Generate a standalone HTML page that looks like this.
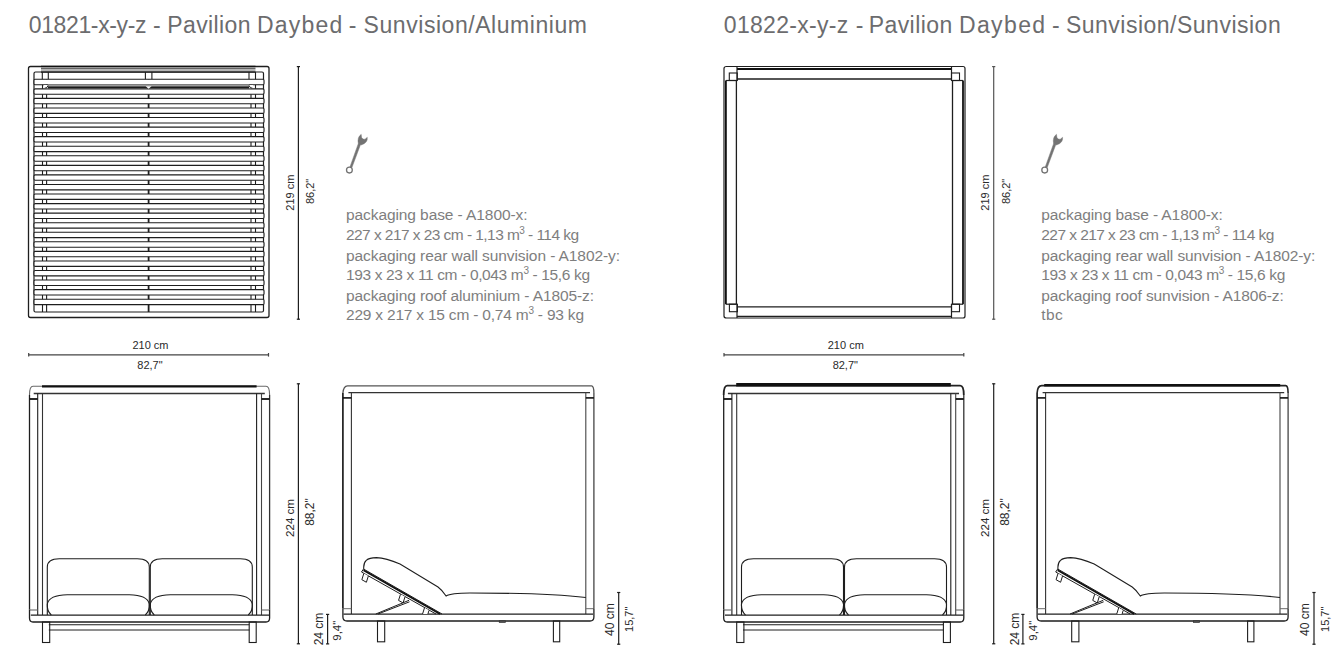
<!DOCTYPE html>
<html><head><meta charset="utf-8"><style>
html,body{margin:0;padding:0;background:#fff;width:1344px;height:666px;overflow:hidden}
svg{display:block;font-family:"Liberation Sans",sans-serif}
</style></head><body>
<svg width="1344" height="666" viewBox="0 0 1344 666">
<rect width="1344" height="666" fill="#fff"/>
<text x="28.7" y="33" font-size="23" fill="#6c6c6e" textLength="117.8" lengthAdjust="spacing">01821-x-y-z</text><text x="152.9" y="33" font-size="23" fill="#6c6c6e" >-</text><text x="167.2" y="33" font-size="23" fill="#6c6c6e" textLength="83.4" lengthAdjust="spacing">Pavilion</text><text x="256.9" y="33" font-size="23" fill="#6c6c6e" textLength="85.4" lengthAdjust="spacing">Daybed</text><text x="348.7" y="33" font-size="23" fill="#6c6c6e" >-</text><text x="363.6" y="33" font-size="23" fill="#6c6c6e" textLength="223.4" lengthAdjust="spacing">Sunvision/Aluminium</text><text x="723.8" y="33" font-size="23" fill="#6c6c6e" textLength="124.4" lengthAdjust="spacing">01822-x-y-z</text><text x="855.7" y="33" font-size="23" fill="#6c6c6e" >-</text><text x="868.7" y="33" font-size="23" fill="#6c6c6e" textLength="83.6" lengthAdjust="spacing">Pavilion</text><text x="958.9" y="33" font-size="23" fill="#6c6c6e" textLength="86.2" lengthAdjust="spacing">Daybed</text><text x="1052.0" y="33" font-size="23" fill="#6c6c6e" >-</text><text x="1065.9" y="33" font-size="23" fill="#6c6c6e" textLength="214.8" lengthAdjust="spacing">Sunvision/Sunvision</text><path d="M30.5 66.5 H267 Q269 66.5 269 68.5 V315.5 Q269 317.5 267 317.5 H30.5 Q28.5 317.5 28.5 315.5 V68.5 Q28.5 66.5 30.5 66.5 Z" stroke="#1e1e1e" stroke-width="1.3" fill="none" /><rect x="41" y="69.2" width="214.5" height="2.6" rx="0" stroke="#6a6a6a" stroke-width="0" fill="#b4b4b4"/><line x1="41" y1="66.5" x2="255.5" y2="66.5" stroke="#111" stroke-width="1.3" /><line x1="41" y1="68.6" x2="255.5" y2="68.6" stroke="#444" stroke-width="0.9" /><line x1="41" y1="72.2" x2="255.5" y2="72.2" stroke="#1e1e1e" stroke-width="1.2" /><path d="M35.5 72 H262 Q263.5 72 263.5 73.5 V310.5 Q263.5 312 262 312 H35.5 Q34 312 34 310.5 V73.5 Q34 72 35.5 72 Z" stroke="#1e1e1e" stroke-width="1.2" fill="none" /><line x1="42.5" y1="79" x2="42.5" y2="312" stroke="#1e1e1e" stroke-width="1.1" /><line x1="46.6" y1="79" x2="46.6" y2="312" stroke="#1e1e1e" stroke-width="1.1" /><line x1="148.6" y1="79" x2="148.6" y2="312" stroke="#1e1e1e" stroke-width="1.8" /><line x1="251" y1="79" x2="251" y2="312" stroke="#1e1e1e" stroke-width="1.1" /><line x1="255.5" y1="79" x2="255.5" y2="312" stroke="#1e1e1e" stroke-width="1.1" /><line x1="42.3" y1="72" x2="42.3" y2="80" stroke="#1e1e1e" stroke-width="1.1" /><line x1="48.3" y1="72" x2="48.3" y2="80" stroke="#1e1e1e" stroke-width="1.1" /><line x1="145.4" y1="72" x2="145.4" y2="80" stroke="#1e1e1e" stroke-width="1.1" /><line x1="151.9" y1="72" x2="151.9" y2="80" stroke="#1e1e1e" stroke-width="1.1" /><line x1="249" y1="72" x2="249" y2="80" stroke="#1e1e1e" stroke-width="1.1" /><line x1="255.5" y1="72" x2="255.5" y2="80" stroke="#1e1e1e" stroke-width="1.1" /><rect x="34" y="79.3" width="230" height="5.4" rx="1.2" stroke="#1e1e1e" stroke-width="1.1" fill="#fff"/><rect x="34" y="88.86" width="230" height="5.4" rx="1.2" stroke="#1e1e1e" stroke-width="1.1" fill="#fff"/><rect x="34" y="98.42" width="230" height="5.4" rx="1.2" stroke="#1e1e1e" stroke-width="1.1" fill="#fff"/><rect x="34" y="107.98" width="230" height="5.4" rx="1.2" stroke="#1e1e1e" stroke-width="1.1" fill="#fff"/><rect x="34" y="117.54" width="230" height="5.4" rx="1.2" stroke="#1e1e1e" stroke-width="1.1" fill="#fff"/><rect x="34" y="127.1" width="230" height="5.4" rx="1.2" stroke="#1e1e1e" stroke-width="1.1" fill="#fff"/><rect x="34" y="136.66" width="230" height="5.4" rx="1.2" stroke="#1e1e1e" stroke-width="1.1" fill="#fff"/><rect x="34" y="146.22" width="230" height="5.4" rx="1.2" stroke="#1e1e1e" stroke-width="1.1" fill="#fff"/><rect x="34" y="155.78" width="230" height="5.4" rx="1.2" stroke="#1e1e1e" stroke-width="1.1" fill="#fff"/><rect x="34" y="165.34" width="230" height="5.4" rx="1.2" stroke="#1e1e1e" stroke-width="1.1" fill="#fff"/><rect x="34" y="174.9" width="230" height="5.4" rx="1.2" stroke="#1e1e1e" stroke-width="1.1" fill="#fff"/><rect x="34" y="184.46" width="230" height="5.4" rx="1.2" stroke="#1e1e1e" stroke-width="1.1" fill="#fff"/><rect x="34" y="194.02" width="230" height="5.4" rx="1.2" stroke="#1e1e1e" stroke-width="1.1" fill="#fff"/><rect x="34" y="203.58" width="230" height="5.4" rx="1.2" stroke="#1e1e1e" stroke-width="1.1" fill="#fff"/><rect x="34" y="213.14" width="230" height="5.4" rx="1.2" stroke="#1e1e1e" stroke-width="1.1" fill="#fff"/><rect x="34" y="222.7" width="230" height="5.4" rx="1.2" stroke="#1e1e1e" stroke-width="1.1" fill="#fff"/><rect x="34" y="232.26" width="230" height="5.4" rx="1.2" stroke="#1e1e1e" stroke-width="1.1" fill="#fff"/><rect x="34" y="241.82" width="230" height="5.4" rx="1.2" stroke="#1e1e1e" stroke-width="1.1" fill="#fff"/><rect x="34" y="251.38" width="230" height="5.4" rx="1.2" stroke="#1e1e1e" stroke-width="1.1" fill="#fff"/><rect x="34" y="260.94" width="230" height="5.4" rx="1.2" stroke="#1e1e1e" stroke-width="1.1" fill="#fff"/><rect x="34" y="270.5" width="230" height="5.4" rx="1.2" stroke="#1e1e1e" stroke-width="1.1" fill="#fff"/><rect x="34" y="280.06" width="230" height="5.4" rx="1.2" stroke="#1e1e1e" stroke-width="1.1" fill="#fff"/><rect x="34" y="289.62" width="230" height="5.4" rx="1.2" stroke="#1e1e1e" stroke-width="1.1" fill="#fff"/><rect x="34" y="299.18" width="230" height="5.4" rx="1.2" stroke="#1e1e1e" stroke-width="1.1" fill="#fff"/><rect x="48" y="84.4" width="201" height="4" rx="0" stroke="#1e1e1e" stroke-width="0" fill="#9c9c9c"/><rect x="48" y="86.5" width="201" height="1.9" rx="0" stroke="#1e1e1e" stroke-width="0" fill="#1a1a1a"/><path d="M145.6 86.2 H151.6 L148.6 88.8 Z" fill="#fff"/><rect x="44" y="85" width="3.6" height="3.3" fill="#fff"/><rect x="249.5" y="85" width="3.6" height="3.3" fill="#fff"/><path d="M44.5 88.3 Q47.5 88.3 48 85.5" stroke="#1e1e1e" stroke-width="1" fill="none" /><path d="M252.6 88.3 Q249.6 88.3 249.1 85.5" stroke="#1e1e1e" stroke-width="1" fill="none" /><path d="M726.5 66.5 H963 Q965 66.5 965 68.5 V316 Q965 318 963 318 H726.5 Q724 318 724 316 V68.5 Q724 66.5 726.5 66.5 Z" stroke="#1e1e1e" stroke-width="1.2" fill="none" /><line x1="737" y1="69" x2="951.5" y2="69" stroke="#111" stroke-width="2.2" /><line x1="737" y1="79" x2="951.5" y2="79" stroke="#1e1e1e" stroke-width="1.3" /><line x1="737" y1="306.8" x2="951.5" y2="306.8" stroke="#1e1e1e" stroke-width="1.3" /><line x1="737" y1="316.4" x2="951.5" y2="316.4" stroke="#1e1e1e" stroke-width="1.2" /><line x1="725.9" y1="80.5" x2="725.9" y2="304.2" stroke="#111" stroke-width="1.8" /><line x1="736.4" y1="80.5" x2="736.4" y2="304.2" stroke="#1e1e1e" stroke-width="1.3" /><line x1="725.9" y1="80.5" x2="736.4" y2="80.5" stroke="#1e1e1e" stroke-width="1.2" /><line x1="725.9" y1="304.2" x2="736.4" y2="304.2" stroke="#1e1e1e" stroke-width="1.2" /><line x1="952.5" y1="80.5" x2="952.5" y2="304.2" stroke="#1e1e1e" stroke-width="1.3" /><line x1="963" y1="80.5" x2="963" y2="304.2" stroke="#111" stroke-width="1.8" /><line x1="952.5" y1="80.5" x2="963" y2="80.5" stroke="#1e1e1e" stroke-width="1.2" /><line x1="952.5" y1="304.2" x2="963" y2="304.2" stroke="#1e1e1e" stroke-width="1.2" /><line x1="737" y1="66.5" x2="737" y2="80.5" stroke="#1e1e1e" stroke-width="1.2" /><line x1="951.5" y1="66.5" x2="951.5" y2="80.5" stroke="#1e1e1e" stroke-width="1.2" /><line x1="737" y1="304.2" x2="737" y2="318" stroke="#1e1e1e" stroke-width="1.2" /><line x1="951.5" y1="304.2" x2="951.5" y2="318" stroke="#1e1e1e" stroke-width="1.2" /><rect x="729.3" y="73" width="8" height="7.5" rx="0" stroke="#1e1e1e" stroke-width="1.1" fill="none"/><rect x="951.5" y="73" width="8" height="7.5" rx="0" stroke="#1e1e1e" stroke-width="1.1" fill="none"/><rect x="729.4" y="304.2" width="8" height="7.5" rx="0" stroke="#1e1e1e" stroke-width="1.1" fill="none"/><rect x="951.5" y="304.2" width="8" height="7.5" rx="0" stroke="#1e1e1e" stroke-width="1.1" fill="none"/><path d="M29.5 395 Q29.5 386.3 33 386.3 H266 Q269.6 386.3 269.6 395" stroke="#6a6a6a" stroke-width="1.1" fill="none" /><line x1="42" y1="386.3" x2="256.6" y2="386.3" stroke="#111" stroke-width="2.3" /><line x1="33.7" y1="393.5" x2="264.8" y2="393.5" stroke="#333" stroke-width="1.3" /><line x1="29.5" y1="395" x2="29.5" y2="609.5" stroke="#1e1e1e" stroke-width="1.3" /><line x1="37.7" y1="393.5" x2="37.7" y2="615" stroke="#1e1e1e" stroke-width="1.1" /><line x1="42.5" y1="393.5" x2="42.5" y2="615" stroke="#333" stroke-width="1.1" /><line x1="256.6" y1="393.5" x2="256.6" y2="615" stroke="#1e1e1e" stroke-width="1.1" /><line x1="261.5" y1="393.5" x2="261.5" y2="615" stroke="#444" stroke-width="1.1" /><line x1="269.6" y1="395" x2="269.6" y2="609.5" stroke="#333" stroke-width="1.3" /><line x1="29.5" y1="399" x2="37.7" y2="399" stroke="#111" stroke-width="1.8" /><line x1="261.5" y1="399" x2="269.6" y2="399" stroke="#111" stroke-width="1.8" /><line x1="29.5" y1="610" x2="37.7" y2="610" stroke="#6a6a6a" stroke-width="1.1" /><line x1="261.5" y1="610" x2="269.6" y2="610" stroke="#6a6a6a" stroke-width="1.1" /><path d="M29.5 609.5 V618 Q29.5 622 33 622 H266 Q269.6 622 269.6 618 V609.5" stroke="#1e1e1e" stroke-width="1.3" fill="none" /><line x1="30.8" y1="615.2" x2="269" y2="615.2" stroke="#1e1e1e" stroke-width="1.3" /><line x1="48.8" y1="624.8" x2="249.4" y2="624.8" stroke="#1e1e1e" stroke-width="1.1" /><line x1="48.8" y1="630" x2="249.4" y2="630" stroke="#1e1e1e" stroke-width="1.1" /><rect x="42.5" y="622" width="7.2" height="20.5" rx="0" stroke="#1e1e1e" stroke-width="1.1" fill="none"/><rect x="249.2" y="622" width="7" height="20.5" rx="0" stroke="#1e1e1e" stroke-width="1.1" fill="none"/><path d="M47.3 615 V567 Q47.3 559 59.3 558.8 H137.3 Q149.3 559 149.3 567 V615" stroke="#1e1e1e" stroke-width="1.1" fill="none" /><path d="M51.3 615 Q46.8 611 47.3 604 Q49.3 595 67.3 594.7 H129.3 Q147.3 595 149.3 604 Q149.8 611 145.3 615" stroke="#1e1e1e" stroke-width="1.1" fill="none" /><path d="M150.3 615 V567 Q150.3 559 162.3 558.8 H240.3 Q252.3 559 252.3 567 V615" stroke="#1e1e1e" stroke-width="1.1" fill="none" /><path d="M154.3 615 Q149.8 611 150.3 604 Q152.3 595 170.3 594.7 H232.3 Q250.3 595 252.3 604 Q252.8 611 248.3 615" stroke="#1e1e1e" stroke-width="1.1" fill="none" /><path d="M723.7 395 Q723.7 385.6 727.2 385.6 H960.2 Q963.8 385.6 963.8 395" stroke="#222" stroke-width="1.8" fill="none" /><line x1="736.2" y1="384.8" x2="950.8" y2="384.8" stroke="#111" stroke-width="3.5" /><line x1="727.9" y1="393.5" x2="959" y2="393.5" stroke="#333" stroke-width="1.3" /><line x1="723.7" y1="395" x2="723.7" y2="609.5" stroke="#1e1e1e" stroke-width="1.3" /><line x1="731.9" y1="393.5" x2="731.9" y2="615" stroke="#1e1e1e" stroke-width="1.1" /><line x1="736.7" y1="393.5" x2="736.7" y2="615" stroke="#333" stroke-width="1.1" /><line x1="950.8" y1="393.5" x2="950.8" y2="615" stroke="#1e1e1e" stroke-width="1.1" /><line x1="955.7" y1="393.5" x2="955.7" y2="615" stroke="#444" stroke-width="1.1" /><line x1="963.8" y1="395" x2="963.8" y2="609.5" stroke="#333" stroke-width="1.3" /><line x1="723.7" y1="399" x2="731.9" y2="399" stroke="#111" stroke-width="1.8" /><line x1="955.7" y1="399" x2="963.8" y2="399" stroke="#111" stroke-width="1.8" /><line x1="723.7" y1="610" x2="731.9" y2="610" stroke="#6a6a6a" stroke-width="1.1" /><line x1="955.7" y1="610" x2="963.8" y2="610" stroke="#6a6a6a" stroke-width="1.1" /><path d="M723.7 609.5 V618 Q723.7 622 727.2 622 H960.2 Q963.8 622 963.8 618 V609.5" stroke="#1e1e1e" stroke-width="1.3" fill="none" /><line x1="725" y1="615.2" x2="963.2" y2="615.2" stroke="#1e1e1e" stroke-width="1.3" /><line x1="743" y1="624.8" x2="943.6" y2="624.8" stroke="#1e1e1e" stroke-width="1.1" /><line x1="743" y1="630" x2="943.6" y2="630" stroke="#1e1e1e" stroke-width="1.1" /><rect x="736.7" y="622" width="7.2" height="20.5" rx="0" stroke="#1e1e1e" stroke-width="1.1" fill="none"/><rect x="943.4" y="622" width="7" height="20.5" rx="0" stroke="#1e1e1e" stroke-width="1.1" fill="none"/><path d="M741.5 615 V567 Q741.5 559 753.5 558.8 H831.5 Q843.5 559 843.5 567 V615" stroke="#1e1e1e" stroke-width="1.1" fill="none" /><path d="M745.5 615 Q741 611 741.5 604 Q743.5 595 761.5 594.7 H823.5 Q841.5 595 843.5 604 Q844 611 839.5 615" stroke="#1e1e1e" stroke-width="1.1" fill="none" /><path d="M844.5 615 V567 Q844.5 559 856.5 558.8 H934.5 Q946.5 559 946.5 567 V615" stroke="#1e1e1e" stroke-width="1.1" fill="none" /><path d="M848.5 615 Q844 611 844.5 604 Q846.5 595 864.5 594.7 H926.5 Q944.5 595 946.5 604 Q947 611 942.5 615" stroke="#1e1e1e" stroke-width="1.1" fill="none" /><path d="M342.9 393 Q343.5 386 347.5 385.9 H591.5 Q593.9 386 593.9 393" stroke="#555" stroke-width="1.3" fill="none" /><line x1="348.4" y1="392.6" x2="590" y2="392.6" stroke="#333" stroke-width="1.3" /><line x1="342.9" y1="393" x2="342.9" y2="608.5" stroke="#111" stroke-width="1.6" /><line x1="351.4" y1="392.6" x2="351.4" y2="614" stroke="#333" stroke-width="1.1" /><line x1="585.8" y1="392.6" x2="585.8" y2="614" stroke="#444" stroke-width="1.1" /><line x1="593.9" y1="393" x2="593.9" y2="608.5" stroke="#444" stroke-width="1.3" /><line x1="342.9" y1="397.9" x2="351.4" y2="397.9" stroke="#111" stroke-width="1.6" /><line x1="585.8" y1="397.9" x2="593.9" y2="397.9" stroke="#111" stroke-width="1.6" /><line x1="342.9" y1="608.7" x2="351.4" y2="608.7" stroke="#6a6a6a" stroke-width="1" /><line x1="585.8" y1="608.7" x2="593.9" y2="608.7" stroke="#6a6a6a" stroke-width="1" /><path d="M342.9 608.5 V617 Q343 621 347 621 H590 Q593.9 621 593.9 617 V608.5" stroke="#1e1e1e" stroke-width="1.3" fill="none" /><line x1="343.5" y1="614.2" x2="593" y2="614.2" stroke="#1e1e1e" stroke-width="1.3" /><rect x="377.5" y="621" width="7.2" height="20.8" rx="0" stroke="#1e1e1e" stroke-width="1.1" fill="none"/><rect x="553.4" y="621" width="6.3" height="20.8" rx="0" stroke="#1e1e1e" stroke-width="1.1" fill="none"/><rect x="499.3" y="620.8" width="6" height="1.6" rx="0" stroke="#333" stroke-width="0.8" fill="none"/><path d="M361.5 572 L363.5 569 L442 614 M361.5 572 L436 614" stroke="#1e1e1e" stroke-width="1" fill="none" /><line x1="363.5" y1="570.3" x2="440" y2="614" stroke="#111" stroke-width="1.8" /><path d="M363.8 569 C363 561 367 557.6 376.4 557.6 C385 557.8 392 560.5 400 564 L438 587 C442 590 443.5 592 446.1 596 C450 593.5 458 593 470 593 C520 593 560 594.5 585.8 597.5" stroke="#1e1e1e" stroke-width="1.1" fill="none" /><clipPath id="cb363"><rect x="0" y="0" width="1344" height="614"/></clipPath><path d="M363.8 573.5 L361.85 579.7 L366.38 582.25 L368.33 576.05" stroke="#1e1e1e" stroke-width="1" fill="#fff" clip-path="url(#cb363)"/><clipPath id="cb400"><rect x="0" y="0" width="1344" height="614"/></clipPath><path d="M400.5 594.2 L398.55 600.4 L403.08 602.95 L405.03 596.75" stroke="#1e1e1e" stroke-width="1" fill="#fff" clip-path="url(#cb400)"/><clipPath id="cb424"><rect x="0" y="0" width="1344" height="614"/></clipPath><path d="M424.5 607.8 L422.1 615.43 L426.63 617.99 L429.03 610.35" stroke="#1e1e1e" stroke-width="1" fill="#fff" clip-path="url(#cb424)"/><path d="M375.8 614 L409 600.3 M378 614 L409.5 601.8" stroke="#1e1e1e" stroke-width="1" fill="none" /><path d="M1037.1 393 Q1037.5 385.6 1041.7 385.6 H1285.7 Q1288.1 385.6 1288.1 393" stroke="#222" stroke-width="1.6" fill="none" /><line x1="1044.2" y1="385.2" x2="1280.2" y2="385.2" stroke="#111" stroke-width="2.4" /><line x1="1042.6" y1="392.6" x2="1284.2" y2="392.6" stroke="#333" stroke-width="1.3" /><line x1="1037.1" y1="393" x2="1037.1" y2="608.5" stroke="#111" stroke-width="1.6" /><line x1="1045.6" y1="392.6" x2="1045.6" y2="614" stroke="#333" stroke-width="1.1" /><line x1="1280" y1="392.6" x2="1280" y2="614" stroke="#444" stroke-width="1.1" /><line x1="1288.1" y1="393" x2="1288.1" y2="608.5" stroke="#444" stroke-width="1.3" /><line x1="1037.1" y1="397.9" x2="1045.6" y2="397.9" stroke="#111" stroke-width="1.6" /><line x1="1280" y1="397.9" x2="1288.1" y2="397.9" stroke="#111" stroke-width="1.6" /><line x1="1037.1" y1="608.7" x2="1045.6" y2="608.7" stroke="#6a6a6a" stroke-width="1" /><line x1="1280" y1="608.7" x2="1288.1" y2="608.7" stroke="#6a6a6a" stroke-width="1" /><path d="M1037.1 608.5 V617 Q1037.2 621 1041.2 621 H1284.2 Q1288.1 621 1288.1 617 V608.5" stroke="#1e1e1e" stroke-width="1.3" fill="none" /><line x1="1037.7" y1="614.2" x2="1287.2" y2="614.2" stroke="#1e1e1e" stroke-width="1.3" /><rect x="1071.7" y="621" width="7.2" height="20.8" rx="0" stroke="#1e1e1e" stroke-width="1.1" fill="none"/><rect x="1247.6" y="621" width="6.3" height="20.8" rx="0" stroke="#1e1e1e" stroke-width="1.1" fill="none"/><rect x="1193.5" y="620.8" width="6" height="1.6" rx="0" stroke="#333" stroke-width="0.8" fill="none"/><path d="M1055.7 572 L1057.7 569 L1136.2 614 M1055.7 572 L1130.2 614" stroke="#1e1e1e" stroke-width="1" fill="none" /><line x1="1057.7" y1="570.3" x2="1134.2" y2="614" stroke="#111" stroke-width="1.8" /><path d="M1058 569 C1057.2 561 1061.2 557.6 1070.6 557.6 C1079.2 557.8 1086.2 560.5 1094.2 564 L1132.2 587 C1136.2 590 1137.7 592 1140.3 596 C1144.2 593.5 1152.2 593 1164.2 593 C1214.2 593 1254.2 594.5 1280 597.5" stroke="#1e1e1e" stroke-width="1.1" fill="none" /><clipPath id="cb1058"><rect x="0" y="0" width="1344" height="614"/></clipPath><path d="M1058 573.5 L1056.05 579.7 L1060.58 582.25 L1062.53 576.05" stroke="#1e1e1e" stroke-width="1" fill="#fff" clip-path="url(#cb1058)"/><clipPath id="cb1094"><rect x="0" y="0" width="1344" height="614"/></clipPath><path d="M1094.7 594.2 L1092.75 600.4 L1097.28 602.95 L1099.23 596.75" stroke="#1e1e1e" stroke-width="1" fill="#fff" clip-path="url(#cb1094)"/><clipPath id="cb1118"><rect x="0" y="0" width="1344" height="614"/></clipPath><path d="M1118.7 607.8 L1116.3 615.43 L1120.83 617.99 L1123.23 610.35" stroke="#1e1e1e" stroke-width="1" fill="#fff" clip-path="url(#cb1118)"/><path d="M1070 614 L1103.2 600.3 M1072.2 614 L1103.7 601.8" stroke="#1e1e1e" stroke-width="1" fill="none" /><line x1="298.4" y1="66.3" x2="298.4" y2="319.5" stroke="#1e1e1e" stroke-width="1.2" /><line x1="296.8" y1="66.6" x2="300" y2="66.6" stroke="#1e1e1e" stroke-width="1.2" /><line x1="296.8" y1="319.2" x2="300" y2="319.2" stroke="#1e1e1e" stroke-width="1.2" /><line x1="28.7" y1="354.8" x2="268.5" y2="354.8" stroke="#444" stroke-width="1.3" /><line x1="28.7" y1="353" x2="28.7" y2="356.6" stroke="#444" stroke-width="1.2" /><line x1="268.5" y1="353" x2="268.5" y2="356.6" stroke="#444" stroke-width="1.2" /><line x1="298.4" y1="383.5" x2="298.4" y2="644.1" stroke="#1e1e1e" stroke-width="1.2" /><line x1="296.8" y1="383.8" x2="300" y2="383.8" stroke="#1e1e1e" stroke-width="1.2" /><line x1="296.8" y1="643.8" x2="300" y2="643.8" stroke="#1e1e1e" stroke-width="1.2" /><line x1="327.6" y1="614.2" x2="327.6" y2="644.1" stroke="#1e1e1e" stroke-width="1.2" /><line x1="326" y1="614.4" x2="329.2" y2="614.4" stroke="#1e1e1e" stroke-width="1.2" /><line x1="326" y1="643.9" x2="329.2" y2="643.9" stroke="#1e1e1e" stroke-width="1.2" /><line x1="618.7" y1="592.3" x2="618.7" y2="644.4" stroke="#1e1e1e" stroke-width="1.2" /><line x1="617.1" y1="592.5" x2="620.3" y2="592.5" stroke="#1e1e1e" stroke-width="1.2" /><line x1="617.1" y1="644.2" x2="620.3" y2="644.2" stroke="#1e1e1e" stroke-width="1.2" /><line x1="993.7" y1="66.3" x2="993.7" y2="319.5" stroke="#555" stroke-width="1.2" /><line x1="992.1" y1="66.6" x2="995.3" y2="66.6" stroke="#555" stroke-width="1.2" /><line x1="992.1" y1="319.2" x2="995.3" y2="319.2" stroke="#555" stroke-width="1.2" /><line x1="724" y1="354.8" x2="963.8" y2="354.8" stroke="#444" stroke-width="1.3" /><line x1="724" y1="353" x2="724" y2="356.6" stroke="#444" stroke-width="1.2" /><line x1="963.8" y1="353" x2="963.8" y2="356.6" stroke="#444" stroke-width="1.2" /><line x1="993.7" y1="383.5" x2="993.7" y2="644.1" stroke="#1e1e1e" stroke-width="1.2" /><line x1="992.1" y1="383.8" x2="995.3" y2="383.8" stroke="#1e1e1e" stroke-width="1.2" /><line x1="992.1" y1="643.8" x2="995.3" y2="643.8" stroke="#1e1e1e" stroke-width="1.2" /><line x1="1022.9" y1="614.2" x2="1022.9" y2="644.1" stroke="#1e1e1e" stroke-width="1.2" /><line x1="1021.3" y1="614.4" x2="1024.5" y2="614.4" stroke="#1e1e1e" stroke-width="1.2" /><line x1="1021.3" y1="643.9" x2="1024.5" y2="643.9" stroke="#1e1e1e" stroke-width="1.2" /><line x1="1314" y1="592.3" x2="1314" y2="644.4" stroke="#1e1e1e" stroke-width="1.2" /><line x1="1312.4" y1="592.5" x2="1315.6" y2="592.5" stroke="#1e1e1e" stroke-width="1.2" /><line x1="1312.4" y1="644.2" x2="1315.6" y2="644.2" stroke="#1e1e1e" stroke-width="1.2" /><text transform="translate(293.8,192.6) rotate(-90)" text-anchor="middle" font-size="11" fill="#2a2a2a">219 cm</text><text transform="translate(314.4,191.4) rotate(-90)" text-anchor="middle" font-size="11" fill="#2a2a2a">86,2&quot;</text><text x="150.5" y="349" text-anchor="middle" font-size="11" fill="#2a2a2a">210 cm</text><text x="150" y="368.7" text-anchor="middle" font-size="11" fill="#2a2a2a">82,7&quot;</text><text transform="translate(294,518) rotate(-90)" text-anchor="middle" font-size="11.6" fill="#2a2a2a">224 cm</text><text transform="translate(313.9,512) rotate(-90)" text-anchor="middle" font-size="12" fill="#2a2a2a">88,2&quot;</text><text transform="translate(323.2,629) rotate(-90)" text-anchor="middle" font-size="12" fill="#2a2a2a">24 cm</text><text transform="translate(341.4,630.7) rotate(-90)" text-anchor="middle" font-size="11.4" fill="#2a2a2a">9,4&quot;</text><text transform="translate(614,619.6) rotate(-90)" text-anchor="middle" font-size="12" fill="#2a2a2a">40 cm</text><text transform="translate(633.3,619.3) rotate(-90)" text-anchor="middle" font-size="11" fill="#2a2a2a">15,7&quot;</text><text transform="translate(989.1,192.6) rotate(-90)" text-anchor="middle" font-size="11" fill="#2a2a2a">219 cm</text><text transform="translate(1009.7,191.4) rotate(-90)" text-anchor="middle" font-size="11" fill="#2a2a2a">86,2&quot;</text><text x="845.8" y="349" text-anchor="middle" font-size="11" fill="#2a2a2a">210 cm</text><text x="845.3" y="368.7" text-anchor="middle" font-size="11" fill="#2a2a2a">82,7&quot;</text><text transform="translate(989.3,518) rotate(-90)" text-anchor="middle" font-size="11.6" fill="#2a2a2a">224 cm</text><text transform="translate(1009.2,512) rotate(-90)" text-anchor="middle" font-size="12" fill="#2a2a2a">88,2&quot;</text><text transform="translate(1018.5,629) rotate(-90)" text-anchor="middle" font-size="12" fill="#2a2a2a">24 cm</text><text transform="translate(1036.7,630.7) rotate(-90)" text-anchor="middle" font-size="11.4" fill="#2a2a2a">9,4&quot;</text><text transform="translate(1309.3,619.6) rotate(-90)" text-anchor="middle" font-size="12" fill="#2a2a2a">40 cm</text><text transform="translate(1328.6,619.3) rotate(-90)" text-anchor="middle" font-size="11" fill="#2a2a2a">15,7&quot;</text><path d="M349.9 167.2 L351.8 167.8 L360.6 144.3 L358.4 143.4 Z" fill="#737373" stroke="#737373" stroke-width="0.5"/><circle cx="349.4" cy="170.1" r="2.9" stroke="#737373" stroke-width="1.3" fill="#fff"/><path d="M358.3 143.6 Q357 137.2 361.2 134.3 L361.6 137.6 Q363 139.8 365 139.2 L367.3 137.3 Q368 142.8 361.2 145.0 Z" fill="#737373" stroke="#737373" stroke-width="0.4"/><path d="M1045.2 167.2 L1047.1 167.8 L1055.9 144.3 L1053.7 143.4 Z" fill="#737373" stroke="#737373" stroke-width="0.5"/><circle cx="1044.7" cy="170.1" r="2.9" stroke="#737373" stroke-width="1.3" fill="#fff"/><path d="M1053.6 143.6 Q1052.3 137.2 1056.5 134.3 L1056.9 137.6 Q1058.3 139.8 1060.3 139.2 L1062.6 137.3 Q1063.3 142.8 1056.5 145.0 Z" fill="#737373" stroke="#737373" stroke-width="0.4"/><text x="346" y="220" font-size="15.5" fill="#7e7e7e" textLength="181.5" lengthAdjust="spacing">packaging base - A1800-x:</text><text x="346" y="240" font-size="15.5" fill="#7e7e7e" textLength="233" lengthAdjust="spacing">227 x 217 x 23 cm - 1,13 m<tspan font-size="10" dy="-6.5">3</tspan><tspan dy="6.5"> - 114 kg</tspan></text><text x="346" y="260.5" font-size="15.5" fill="#7e7e7e" textLength="274" lengthAdjust="spacing">packaging rear wall sunvision - A1802-y:</text><text x="346" y="280.3" font-size="15.5" fill="#7e7e7e" textLength="244" lengthAdjust="spacing">193 x 23 x 11 cm - 0,043 m<tspan font-size="10" dy="-6.5">3</tspan><tspan dy="6.5"> - 15,6 kg</tspan></text><text x="346" y="300.5" font-size="15.5" fill="#7e7e7e" textLength="248" lengthAdjust="spacing">packaging roof aluminium - A1805-z:</text><text x="346" y="320.3" font-size="15.5" fill="#7e7e7e" textLength="238" lengthAdjust="spacing">229 x 217 x 15 cm - 0,74 m<tspan font-size="10" dy="-6.5">3</tspan><tspan dy="6.5"> - 93 kg</tspan></text><text x="1041.3" y="220" font-size="15.5" fill="#7e7e7e" textLength="181.5" lengthAdjust="spacing">packaging base - A1800-x:</text><text x="1041.3" y="240" font-size="15.5" fill="#7e7e7e" textLength="233" lengthAdjust="spacing">227 x 217 x 23 cm - 1,13 m<tspan font-size="10" dy="-6.5">3</tspan><tspan dy="6.5"> - 114 kg</tspan></text><text x="1041.3" y="260.5" font-size="15.5" fill="#7e7e7e" textLength="274" lengthAdjust="spacing">packaging rear wall sunvision - A1802-y:</text><text x="1041.3" y="280.3" font-size="15.5" fill="#7e7e7e" textLength="244" lengthAdjust="spacing">193 x 23 x 11 cm - 0,043 m<tspan font-size="10" dy="-6.5">3</tspan><tspan dy="6.5"> - 15,6 kg</tspan></text><text x="1041.3" y="300.5" font-size="15.5" fill="#7e7e7e" textLength="242.5" lengthAdjust="spacing">packaging roof sunvision - A1806-z:</text><text x="1041.3" y="320.3" font-size="15.5" fill="#7e7e7e" textLength="21.5" lengthAdjust="spacing">tbc</text>
</svg>
</body></html>
